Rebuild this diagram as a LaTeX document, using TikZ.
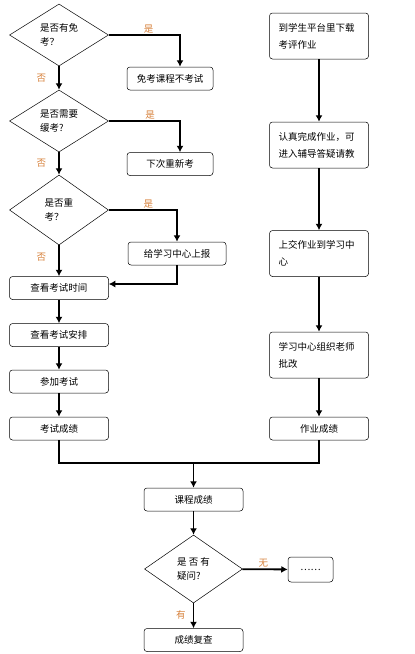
\documentclass[tikz,border=0pt]{standalone}
\usepackage{fontspec}
\setmainfont{Noto Sans CJK SC}
\usetikzlibrary{arrows.meta, shapes.geometric}

\definecolor{answerorange}{RGB}{214,128,58}

\begin{document}
\begin{tikzpicture}[->,>={Latex[length=6.5pt,width=7pt]}, line width=1.8pt, x=1pt, y=1pt]
    \tikzstyle{every node}=[font=\fontsize{9.5pt}{14pt}\selectfont]
    \tikzstyle{choice}=[diamond,
                        draw=black,
                        line width=0.5pt,
                        inner sep=0pt,
                        minimum width=99pt,
                        minimum height=62pt,
                        align=left]
    \tikzstyle{box}=[rectangle,
                     draw=black,
                     line width=0.5pt,
                     rounded corners=3pt,
                     minimum width=99pt,
                     minimum height=23pt,
                     align=center]
    \tikzstyle{task}=[box,
                      minimum height=46pt,
                      text width=81pt,
                      align=left,
                      font=\fontsize{9.5pt}{17pt}\selectfont]
    \tikzstyle{answer}=[text=answerorange, inner sep=1pt]
    \useasboundingbox (0,0) rectangle (415,-654);

    % exam side
    \node[choice] (D1) at (59,-35) {是否有免\\考？};
    \node[choice] (D2) [below of=D1, node distance=86pt] {是否需要\\缓考?};
    \node[choice, minimum height=70pt] (D3) [below of=D2, node distance=89pt] {是否重\\考？};
    \node[box] (T1) [below of=D3, node distance=78pt] {查看考试时间};
    \node[box] (T2) [below of=T1, node distance=47pt] {查看考试安排};
    \node[box] (T3) [below of=T2, node distance=46.5pt] {参加考试};
    \node[box] (T4) [below of=T3, node distance=47pt] {考试成绩};

    \node[box, minimum width=86pt] (S1) at (170,-78.5) {免考课程不考试};
    \node[box, minimum width=86pt] (S2) at (170,-164) {下次重新考};
    \node[box, minimum width=98pt] (S3) at (177,-253.5) {给学习中心上报};

    % homework side
    \node[task] (W1) at (319,-36) {到学生平台里下载\\考评作业};
    \node[task] (W2) [below of=W1, node distance=109pt] {认真完成作业，可\\进入辅导答疑请教};
    \node[task] (W3) [below of=W2, node distance=108.5pt] {上交作业到学习中\\心};
    \node[task] (W4) [below of=W3, node distance=101.5pt] {学习中心组织老师\\批改};
    \node[box] (W5) [below of=W4, node distance=73.5pt] {作业成绩};

    % result
    \node[box] (C1) at (193.5,-499.5) {课程成绩};
    \node[choice, minimum width=98pt, minimum height=68pt] (D4) [below of=C1, node distance=69.5pt] {是\ 否\ 有\\疑问?};
    \node[box, minimum width=45pt, minimum height=25pt] (E) at (310.5,-569.5) {……};
    \node[box] (C2) [below of=D4, node distance=71pt] {成绩复查};
    \coordinate (M) at ([yshift=25pt]C1.north);

    \draw (D1.east) -| ([xshift=10pt]S1.north) node[answer, pos=0.28, above] {是};
    \draw (D2.east) -| ([xshift=10pt]S2.north) node[answer, pos=0.29, above] {是};
    \draw (D3.east) -| (S3.north) node[answer, pos=0.29, above] {是};
    \draw (S3.south) |- ([yshift=4pt]T1.east);

    \path (D1) edge node[answer, left=11pt] {否} (D2)
          (D2) edge node[answer, left=11pt] {否} (D3)
          (D3) edge node[answer, left=11pt, pos=0.375] {否} (T1)
          (T1) edge (T2)
          (T2) edge (T3)
          (T3) edge (T4)
          (W1) edge (W2)
          (W2) edge (W3)
          (W3) edge (W4)
          (W4) edge (W5)
          (M)  edge (C1)
          (C1) edge (D4)
          (D4) edge node[answer, pos=0.46, above] {无} (E)
          (D4) edge node[answer, left=6pt, pos=0.48] {有} (C2);

    \draw[-] (T4.south) |- (M);
    \draw[-] (W5.south) |- (M);
\end{tikzpicture}
\end{document}
